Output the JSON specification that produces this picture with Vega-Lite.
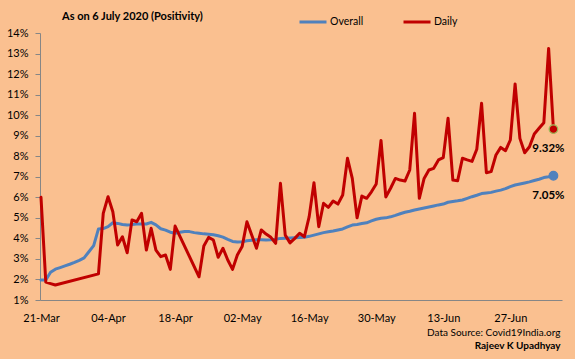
{
  "$schema": "https://vega.github.io/schema/vega-lite/v6.json",
  "width": 522,
  "height": 267,
  "autosize": {"type": "none"},
  "padding": {"left": 40, "top": 33, "right": 13, "bottom": 59},
  "background": "#FAC090",
  "config": {
    "font": "Lato",
    "view": {"stroke": null},
    "axis": {"labelColor": "#000000", "labelFont": "Lato", "labelFontSize": 11, "domainColor": "#868686", "tickColor": "#868686", "grid": false},
    "legend": {"labelFont": "Lato", "labelFontSize": 10.5, "labelColor": "#000000"}
  },
  "title": {"text": "As on 6 July 2020 (Positivity)", "anchor": "start", "frame": "group", "dx": 22, "dy": 27, "offset": 12, "fontSize": 11, "fontWeight": "bold", "font": "Lato", "color": "#000000"},
  "data": {"name": "rows"},
  "datasets": {
    "rows": [
      {"date": "2020-03-21", "series": "Overall", "value": 0.0197},
      {"date": "2020-03-22", "series": "Overall", "value": 0.0197},
      {"date": "2020-03-23", "series": "Overall", "value": 0.0235},
      {"date": "2020-03-24", "series": "Overall", "value": 0.025},
      {"date": "2020-03-25", "series": "Overall", "value": 0.0258},
      {"date": "2020-03-26", "series": "Overall", "value": 0.0266},
      {"date": "2020-03-27", "series": "Overall", "value": 0.0274},
      {"date": "2020-03-28", "series": "Overall", "value": 0.0283},
      {"date": "2020-03-29", "series": "Overall", "value": 0.0293},
      {"date": "2020-03-30", "series": "Overall", "value": 0.0305},
      {"date": "2020-03-31", "series": "Overall", "value": 0.0335},
      {"date": "2020-04-01", "series": "Overall", "value": 0.0365},
      {"date": "2020-04-02", "series": "Overall", "value": 0.0446},
      {"date": "2020-04-03", "series": "Overall", "value": 0.0448},
      {"date": "2020-04-04", "series": "Overall", "value": 0.0457},
      {"date": "2020-04-05", "series": "Overall", "value": 0.0476},
      {"date": "2020-04-06", "series": "Overall", "value": 0.0473},
      {"date": "2020-04-07", "series": "Overall", "value": 0.0468},
      {"date": "2020-04-08", "series": "Overall", "value": 0.0465},
      {"date": "2020-04-09", "series": "Overall", "value": 0.0467},
      {"date": "2020-04-10", "series": "Overall", "value": 0.047},
      {"date": "2020-04-11", "series": "Overall", "value": 0.047},
      {"date": "2020-04-12", "series": "Overall", "value": 0.047},
      {"date": "2020-04-13", "series": "Overall", "value": 0.0478},
      {"date": "2020-04-14", "series": "Overall", "value": 0.0466},
      {"date": "2020-04-15", "series": "Overall", "value": 0.0447},
      {"date": "2020-04-16", "series": "Overall", "value": 0.044},
      {"date": "2020-04-17", "series": "Overall", "value": 0.043},
      {"date": "2020-04-18", "series": "Overall", "value": 0.0425},
      {"date": "2020-04-19", "series": "Overall", "value": 0.043},
      {"date": "2020-04-20", "series": "Overall", "value": 0.0433},
      {"date": "2020-04-21", "series": "Overall", "value": 0.0433},
      {"date": "2020-04-22", "series": "Overall", "value": 0.0428},
      {"date": "2020-04-23", "series": "Overall", "value": 0.0425},
      {"date": "2020-04-24", "series": "Overall", "value": 0.0422},
      {"date": "2020-04-25", "series": "Overall", "value": 0.042},
      {"date": "2020-04-26", "series": "Overall", "value": 0.0418},
      {"date": "2020-04-27", "series": "Overall", "value": 0.0413},
      {"date": "2020-04-28", "series": "Overall", "value": 0.0406},
      {"date": "2020-04-29", "series": "Overall", "value": 0.0395},
      {"date": "2020-04-30", "series": "Overall", "value": 0.0385},
      {"date": "2020-05-01", "series": "Overall", "value": 0.0382},
      {"date": "2020-05-02", "series": "Overall", "value": 0.0384},
      {"date": "2020-05-03", "series": "Overall", "value": 0.0388},
      {"date": "2020-05-04", "series": "Overall", "value": 0.0391},
      {"date": "2020-05-05", "series": "Overall", "value": 0.0393},
      {"date": "2020-05-06", "series": "Overall", "value": 0.0393},
      {"date": "2020-05-07", "series": "Overall", "value": 0.0392},
      {"date": "2020-05-08", "series": "Overall", "value": 0.0393},
      {"date": "2020-05-09", "series": "Overall", "value": 0.0396},
      {"date": "2020-05-10", "series": "Overall", "value": 0.04},
      {"date": "2020-05-11", "series": "Overall", "value": 0.0401},
      {"date": "2020-05-12", "series": "Overall", "value": 0.0402},
      {"date": "2020-05-13", "series": "Overall", "value": 0.0403},
      {"date": "2020-05-14", "series": "Overall", "value": 0.0404},
      {"date": "2020-05-15", "series": "Overall", "value": 0.0405},
      {"date": "2020-05-16", "series": "Overall", "value": 0.041},
      {"date": "2020-05-17", "series": "Overall", "value": 0.0416},
      {"date": "2020-05-18", "series": "Overall", "value": 0.0422},
      {"date": "2020-05-19", "series": "Overall", "value": 0.0428},
      {"date": "2020-05-20", "series": "Overall", "value": 0.0432},
      {"date": "2020-05-21", "series": "Overall", "value": 0.0436},
      {"date": "2020-05-22", "series": "Overall", "value": 0.0441},
      {"date": "2020-05-23", "series": "Overall", "value": 0.0446},
      {"date": "2020-05-24", "series": "Overall", "value": 0.0456},
      {"date": "2020-05-25", "series": "Overall", "value": 0.0465},
      {"date": "2020-05-26", "series": "Overall", "value": 0.0468},
      {"date": "2020-05-27", "series": "Overall", "value": 0.0472},
      {"date": "2020-05-28", "series": "Overall", "value": 0.0476},
      {"date": "2020-05-29", "series": "Overall", "value": 0.0485},
      {"date": "2020-05-30", "series": "Overall", "value": 0.0493},
      {"date": "2020-05-31", "series": "Overall", "value": 0.0498},
      {"date": "2020-06-01", "series": "Overall", "value": 0.05},
      {"date": "2020-06-02", "series": "Overall", "value": 0.0505},
      {"date": "2020-06-03", "series": "Overall", "value": 0.0512},
      {"date": "2020-06-04", "series": "Overall", "value": 0.052},
      {"date": "2020-06-05", "series": "Overall", "value": 0.0527},
      {"date": "2020-06-06", "series": "Overall", "value": 0.0532},
      {"date": "2020-06-07", "series": "Overall", "value": 0.0538},
      {"date": "2020-06-08", "series": "Overall", "value": 0.0543},
      {"date": "2020-06-09", "series": "Overall", "value": 0.0548},
      {"date": "2020-06-10", "series": "Overall", "value": 0.0553},
      {"date": "2020-06-11", "series": "Overall", "value": 0.0558},
      {"date": "2020-06-12", "series": "Overall", "value": 0.0563},
      {"date": "2020-06-13", "series": "Overall", "value": 0.0567},
      {"date": "2020-06-14", "series": "Overall", "value": 0.0576},
      {"date": "2020-06-15", "series": "Overall", "value": 0.058},
      {"date": "2020-06-16", "series": "Overall", "value": 0.0583},
      {"date": "2020-06-17", "series": "Overall", "value": 0.0587},
      {"date": "2020-06-18", "series": "Overall", "value": 0.0595},
      {"date": "2020-06-19", "series": "Overall", "value": 0.0603},
      {"date": "2020-06-20", "series": "Overall", "value": 0.061},
      {"date": "2020-06-21", "series": "Overall", "value": 0.0618},
      {"date": "2020-06-22", "series": "Overall", "value": 0.0621},
      {"date": "2020-06-23", "series": "Overall", "value": 0.0624},
      {"date": "2020-06-24", "series": "Overall", "value": 0.063},
      {"date": "2020-06-25", "series": "Overall", "value": 0.0635},
      {"date": "2020-06-26", "series": "Overall", "value": 0.0642},
      {"date": "2020-06-27", "series": "Overall", "value": 0.0652},
      {"date": "2020-06-28", "series": "Overall", "value": 0.066},
      {"date": "2020-06-29", "series": "Overall", "value": 0.0665},
      {"date": "2020-06-30", "series": "Overall", "value": 0.067},
      {"date": "2020-07-01", "series": "Overall", "value": 0.0675},
      {"date": "2020-07-02", "series": "Overall", "value": 0.0682},
      {"date": "2020-07-03", "series": "Overall", "value": 0.0688},
      {"date": "2020-07-04", "series": "Overall", "value": 0.0696},
      {"date": "2020-07-05", "series": "Overall", "value": 0.07},
      {"date": "2020-07-06", "series": "Overall", "value": 0.0705},
      {"date": "2020-03-21", "series": "Daily", "value": 0.06},
      {"date": "2020-03-22", "series": "Daily", "value": 0.0187},
      {"date": "2020-03-23", "series": "Daily", "value": 0.018},
      {"date": "2020-03-24", "series": "Daily", "value": 0.0173},
      {"date": "2020-04-02", "series": "Daily", "value": 0.0227},
      {"date": "2020-04-03", "series": "Daily", "value": 0.0522},
      {"date": "2020-04-04", "series": "Daily", "value": 0.0603},
      {"date": "2020-04-05", "series": "Daily", "value": 0.053},
      {"date": "2020-04-06", "series": "Daily", "value": 0.0368},
      {"date": "2020-04-07", "series": "Daily", "value": 0.0408},
      {"date": "2020-04-08", "series": "Daily", "value": 0.033},
      {"date": "2020-04-09", "series": "Daily", "value": 0.049},
      {"date": "2020-04-10", "series": "Daily", "value": 0.0481},
      {"date": "2020-04-11", "series": "Daily", "value": 0.0522},
      {"date": "2020-04-12", "series": "Daily", "value": 0.0343},
      {"date": "2020-04-13", "series": "Daily", "value": 0.0449},
      {"date": "2020-04-14", "series": "Daily", "value": 0.0343},
      {"date": "2020-04-15", "series": "Daily", "value": 0.0311},
      {"date": "2020-04-16", "series": "Daily", "value": 0.0319},
      {"date": "2020-04-17", "series": "Daily", "value": 0.0249},
      {"date": "2020-04-18", "series": "Daily", "value": 0.046},
      {"date": "2020-04-23", "series": "Daily", "value": 0.0213},
      {"date": "2020-04-24", "series": "Daily", "value": 0.0363},
      {"date": "2020-04-25", "series": "Daily", "value": 0.0405},
      {"date": "2020-04-26", "series": "Daily", "value": 0.0392},
      {"date": "2020-04-27", "series": "Daily", "value": 0.0308},
      {"date": "2020-04-28", "series": "Daily", "value": 0.0352},
      {"date": "2020-04-29", "series": "Daily", "value": 0.0295},
      {"date": "2020-04-30", "series": "Daily", "value": 0.0249},
      {"date": "2020-05-01", "series": "Daily", "value": 0.0319},
      {"date": "2020-05-02", "series": "Daily", "value": 0.036},
      {"date": "2020-05-03", "series": "Daily", "value": 0.0481},
      {"date": "2020-05-04", "series": "Daily", "value": 0.0416},
      {"date": "2020-05-05", "series": "Daily", "value": 0.0352},
      {"date": "2020-05-06", "series": "Daily", "value": 0.0441},
      {"date": "2020-05-07", "series": "Daily", "value": 0.0421},
      {"date": "2020-05-08", "series": "Daily", "value": 0.0405},
      {"date": "2020-05-09", "series": "Daily", "value": 0.0376},
      {"date": "2020-05-10", "series": "Daily", "value": 0.0668},
      {"date": "2020-05-11", "series": "Daily", "value": 0.0416},
      {"date": "2020-05-12", "series": "Daily", "value": 0.0378},
      {"date": "2020-05-13", "series": "Daily", "value": 0.04},
      {"date": "2020-05-14", "series": "Daily", "value": 0.0425},
      {"date": "2020-05-15", "series": "Daily", "value": 0.0408},
      {"date": "2020-05-16", "series": "Daily", "value": 0.0506},
      {"date": "2020-05-17", "series": "Daily", "value": 0.0671},
      {"date": "2020-05-18", "series": "Daily", "value": 0.0457},
      {"date": "2020-05-19", "series": "Daily", "value": 0.0571},
      {"date": "2020-05-20", "series": "Daily", "value": 0.0551},
      {"date": "2020-05-21", "series": "Daily", "value": 0.0582},
      {"date": "2020-05-22", "series": "Daily", "value": 0.0567},
      {"date": "2020-05-23", "series": "Daily", "value": 0.0611},
      {"date": "2020-05-24", "series": "Daily", "value": 0.079},
      {"date": "2020-05-25", "series": "Daily", "value": 0.0692},
      {"date": "2020-05-26", "series": "Daily", "value": 0.05},
      {"date": "2020-05-27", "series": "Daily", "value": 0.0606},
      {"date": "2020-05-28", "series": "Daily", "value": 0.0595},
      {"date": "2020-05-29", "series": "Daily", "value": 0.0627},
      {"date": "2020-05-30", "series": "Daily", "value": 0.0665},
      {"date": "2020-05-31", "series": "Daily", "value": 0.0877},
      {"date": "2020-06-01", "series": "Daily", "value": 0.0602},
      {"date": "2020-06-02", "series": "Daily", "value": 0.0644},
      {"date": "2020-06-03", "series": "Daily", "value": 0.0692},
      {"date": "2020-06-04", "series": "Daily", "value": 0.0684},
      {"date": "2020-06-05", "series": "Daily", "value": 0.0679},
      {"date": "2020-06-06", "series": "Daily", "value": 0.0733},
      {"date": "2020-06-07", "series": "Daily", "value": 0.1009},
      {"date": "2020-06-08", "series": "Daily", "value": 0.0595},
      {"date": "2020-06-09", "series": "Daily", "value": 0.0692},
      {"date": "2020-06-10", "series": "Daily", "value": 0.0733},
      {"date": "2020-06-11", "series": "Daily", "value": 0.0741},
      {"date": "2020-06-12", "series": "Daily", "value": 0.0782},
      {"date": "2020-06-13", "series": "Daily", "value": 0.0793},
      {"date": "2020-06-14", "series": "Daily", "value": 0.0985},
      {"date": "2020-06-15", "series": "Daily", "value": 0.0684},
      {"date": "2020-06-16", "series": "Daily", "value": 0.0681},
      {"date": "2020-06-17", "series": "Daily", "value": 0.079},
      {"date": "2020-06-18", "series": "Daily", "value": 0.0782},
      {"date": "2020-06-19", "series": "Daily", "value": 0.0775},
      {"date": "2020-06-20", "series": "Daily", "value": 0.0834},
      {"date": "2020-06-21", "series": "Daily", "value": 0.1058},
      {"date": "2020-06-22", "series": "Daily", "value": 0.072},
      {"date": "2020-06-23", "series": "Daily", "value": 0.0725},
      {"date": "2020-06-24", "series": "Daily", "value": 0.0806},
      {"date": "2020-06-25", "series": "Daily", "value": 0.0843},
      {"date": "2020-06-26", "series": "Daily", "value": 0.0827},
      {"date": "2020-06-27", "series": "Daily", "value": 0.0879},
      {"date": "2020-06-28", "series": "Daily", "value": 0.1152},
      {"date": "2020-06-29", "series": "Daily", "value": 0.0887},
      {"date": "2020-06-30", "series": "Daily", "value": 0.0817},
      {"date": "2020-07-01", "series": "Daily", "value": 0.0846},
      {"date": "2020-07-02", "series": "Daily", "value": 0.0908},
      {"date": "2020-07-03", "series": "Daily", "value": 0.0936},
      {"date": "2020-07-04", "series": "Daily", "value": 0.0963},
      {"date": "2020-07-05", "series": "Daily", "value": 0.1325},
      {"date": "2020-07-06", "series": "Daily", "value": 0.0932}
    ]
  },
  "layer": [
    {
      "transform": [{"filter": {"field": "series", "equal": "Overall"}}],
      "mark": {"type": "line", "strokeWidth": 3, "strokeJoin": "round", "strokeCap": "round"},
      "encoding": {
        "x": {
          "field": "date", "type": "temporal",
          "scale": {"type": "utc", "domain": [{"year": 2020, "month": 3, "date": 20, "hours": 19, "utc": true}, {"year": 2020, "month": 7, "date": 7, "hours": 19, "utc": true}]},
          "axis": {
            "values": [
              {"year": 2020, "month": 3, "date": 21, "utc": true},
              {"year": 2020, "month": 4, "date": 4, "utc": true},
              {"year": 2020, "month": 4, "date": 18, "utc": true},
              {"year": 2020, "month": 5, "date": 2, "utc": true},
              {"year": 2020, "month": 5, "date": 16, "utc": true},
              {"year": 2020, "month": 5, "date": 30, "utc": true},
              {"year": 2020, "month": 6, "date": 13, "utc": true},
              {"year": 2020, "month": 6, "date": 27, "utc": true}
            ],
            "format": "%d-%b", "ticks": false, "labelPadding": 12, "labelFlush": false, "labelOverlap": false,
            "title": "Data Source: Covid19India.org", "titleX": 520, "titleY": 32, "titleAlign": "right", "titleAnchor": null, "titleBaseline": "middle",
            "titleFontSize": 10, "titleFontWeight": "normal", "titleFont": "Lato", "titleColor": "#000000"
          }
        },
        "y": {
          "field": "value", "type": "quantitative",
          "scale": {"domain": [0.01, 0.14], "nice": false, "zero": false},
          "axis": {
            "tickCount": 13,
            "format": ".0%", "tickSize": 5, "labelPadding": 7, "labelOverlap": false, "labelFlush": false, "labelBound": false, "labelSeparation": 0,
            "title": "Rajeev K Upadhyay", "titleAngle": 0, "titleX": 520, "titleY": 312, "titleAlign": "right", "titleAnchor": null, "titleBaseline": "middle",
            "titleFontSize": 10, "titleFontWeight": "bold", "titleFont": "Lato", "titleColor": "#000000"
          }
        },
        "color": {
          "field": "series", "type": "nominal",
          "scale": {"domain": ["Overall", "Daily"], "range": ["#4F81BD", "#C00000"]},
          "legend": {"title": null, "orient": "none", "legendX": 258, "legendY": -26, "direction": "horizontal", "columns": 2, "symbolType": "stroke", "symbolSize": 729, "symbolStrokeWidth": 3, "labelOffset": 2, "columnPadding": 33, "padding": 0}
        }
      }
    },
    {
      "transform": [{"filter": {"field": "series", "equal": "Daily"}}],
      "mark": {"type": "line", "strokeWidth": 3, "strokeJoin": "round", "strokeCap": "round"},
      "encoding": {
        "x": {"field": "date", "type": "temporal"},
        "y": {"field": "value", "type": "quantitative"},
        "color": {"field": "series", "type": "nominal"}
      }
    },
    {
      "transform": [{"filter": {"field": "date", "equal": {"year": 2020, "month": 7, "date": 6, "utc": true}}}],
      "mark": {"type": "point", "filled": true, "size": 75, "strokeWidth": 1.2, "opacity": 1},
      "encoding": {
        "x": {"field": "date", "type": "temporal"},
        "y": {"field": "value", "type": "quantitative"},
        "fill": {"field": "series", "type": "nominal", "scale": {"domain": ["Overall", "Daily"], "range": ["#4F81BD", "#C00000"]}, "legend": null},
        "stroke": {"field": "series", "type": "nominal", "scale": {"domain": ["Overall", "Daily"], "range": ["#4F81BD", "#9BBB59"]}, "legend": null}
      }
    },
    {
      "transform": [{"filter": {"field": "date", "equal": {"year": 2020, "month": 7, "date": 6, "utc": true}}}],
      "mark": {"type": "text", "dy": 20, "dx": -5, "fontWeight": "bold", "fontSize": 11.5, "font": "Lato", "color": "#000000"},
      "encoding": {
        "x": {"field": "date", "type": "temporal"},
        "y": {"field": "value", "type": "quantitative"},
        "text": {"field": "value", "type": "quantitative", "format": ".2%"}
      }
    }
  ]
}
